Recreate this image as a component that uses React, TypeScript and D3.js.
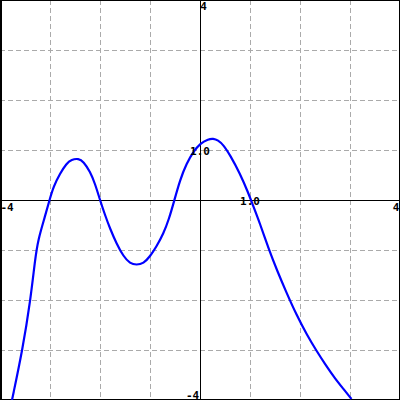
import React from "react";
import * as d3 from "d3";

const curveX = [-3.76, -3.55, -3.39, -3.30, -3.24, -3.10, -3.01, -2.93, -2.80, -2.67, -2.57, -2.43, -2.33, -2.20, -2.10, -2.0, -1.90, -1.80, -1.67, -1.53, -1.40, -1.27, -1.13, -1.0, -0.87, -0.73, -0.62, -0.52, -0.40, -0.27, -0.13, 0.0, 0.17, 0.26, 0.36, 0.47, 0.60, 0.80, 0.97, 1.03, 1.20, 1.38, 1.55, 1.72, 1.93, 2.15, 2.32, 2.50, 2.70, 2.87, 3.03];
const curveY = [-4.0, -3.0, -2.0, -1.2, -0.8, -0.33, 0.0, 0.27, 0.53, 0.73, 0.81, 0.83, 0.77, 0.57, 0.33, 0.0, -0.30, -0.57, -0.87, -1.13, -1.27, -1.30, -1.27, -1.13, -0.93, -0.67, -0.38, -0.03, 0.40, 0.73, 0.97, 1.13, 1.22, 1.23, 1.20, 1.10, 0.90, 0.53, 0.13, -0.03, -0.47, -1.0, -1.43, -1.83, -2.30, -2.72, -3.0, -3.28, -3.57, -3.78, -3.98];
const gridTicks = [-3, -2, -1, 1, 2, 3];
const domainMin = -4;
const domainMax = 4;
const unitLabel = "1.0";

export default function App() {
  const W = 400, H = 400;
  const x = d3.scaleLinear().domain([domainMin, domainMax]).range([0, W]);
  const y = d3.scaleLinear().domain([domainMin, domainMax]).range([H, 0]);
  const pts: [number, number][] = curveX.map((v, i) => [v, curveY[i]]);
  const line = d3.line<[number, number]>().x(d => x(d[0])).y(d => y(d[1])).curve(d3.curveBasis);
  const font = { fontFamily: "'DejaVu Sans Mono', monospace", fontWeight: "bold" as const, fontSize: 11 };
  return (
    <svg width={W} height={H} style={{ position: "fixed", left: 0, top: 0, background: "#fff" }}>
      <rect x={0} y={0} width={W} height={H} fill="#fff" />
      {gridTicks.map(t => (
        <g key={t}>
          <line x1={x(t)} x2={x(t)} y1={0} y2={H} stroke="#aaaaaa" strokeWidth={1} strokeDasharray="5,3" shapeRendering="crispEdges" />
          <line x1={0} x2={W} y1={y(t)} y2={y(t)} stroke="#aaaaaa" strokeWidth={1} strokeDasharray="5,3" shapeRendering="crispEdges" />
        </g>
      ))}
      <line x1={x(0)} x2={x(0)} y1={0} y2={H} stroke="#000" strokeWidth={1} shapeRendering="crispEdges" />
      <line x1={0} x2={W} y1={y(0)} y2={y(0)} stroke="#000" strokeWidth={1} shapeRendering="crispEdges" />
      <rect x={0.5} y={0.5} width={W - 1} height={H - 1} fill="none" stroke="#000" strokeWidth={1} shapeRendering="crispEdges" />
      <line x1={1.5} x2={1.5} y1={0} y2={H} stroke="#000" strokeWidth={1} shapeRendering="crispEdges" />
      <path d={line(pts) || ""} fill="none" stroke="#0000ff" strokeWidth={2.2} />
      <g {...font} textAnchor="middle" dominantBaseline="central" fill="#000">
        <text x={x(domainMin) + 7} y={y(0) + 7}>{String(domainMin)}</text>
        <text x={x(domainMax) - 4} y={y(0) + 7}>{String(domainMax)}</text>
        <text x={x(0) + 3.5} y={y(domainMax) + 6.5}>{String(domainMax)}</text>
        <text x={x(0) - 7.5} y={y(domainMin) - 5}>{String(domainMin)}</text>
        <text x={x(0)} y={y(1) + 1}>{unitLabel}</text>
        <text x={x(1)} y={y(0) + 1}>{unitLabel}</text>
      </g>
    </svg>
  );
}
